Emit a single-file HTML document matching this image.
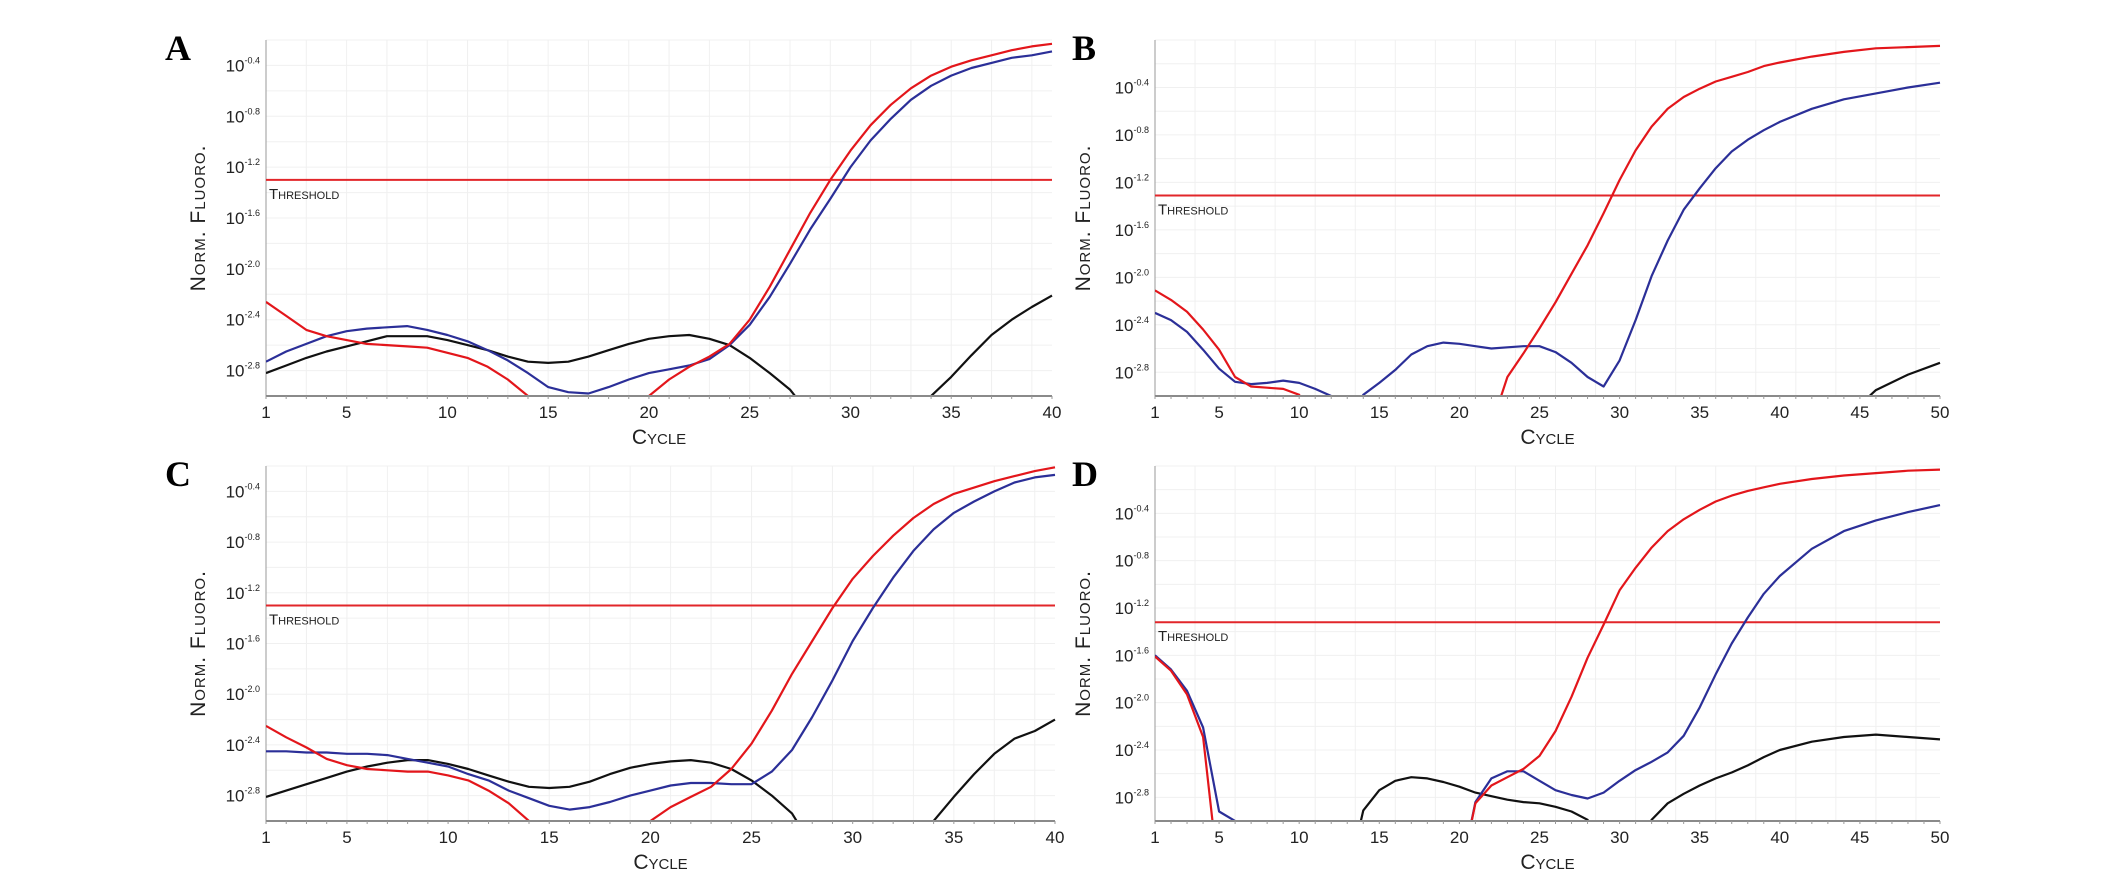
<!DOCTYPE html>
<html><head><meta charset="utf-8">
<style>
html,body{margin:0;padding:0;background:#fff;}
svg{display:block;}
text{font-family:"Liberation Sans",sans-serif;}
text.letter{font-family:"Liberation Serif",serif;}
</style></head>
<body>
<svg id="fig" width="2126" height="888" viewBox="0 0 2126 888" xmlns="http://www.w3.org/2000/svg"></svg>
<script>
// ---- data (log10 normalized fluorescence); values below axis floor are clipped ----
const cyclesA = [1,2,3,4,5,6,7,8,9,10,11,12,13,14,15,16,17,18,19,20,21,22,23,24,25,26,27,28,29,30,31,32,33,34,35,36,37,38,39,40];
const redA = [-2.26,-2.37,-2.48,-2.53,-2.56,-2.59,-2.60,-2.61,-2.62,-2.66,-2.70,-2.77,-2.87,-3.0,-3.5,-3.5,-3.5,-3.5,-3.5,-3.0,-2.87,-2.77,-2.69,-2.59,-2.40,-2.14,-1.85,-1.56,-1.30,-1.07,-0.87,-0.71,-0.58,-0.48,-0.41,-0.36,-0.32,-0.28,-0.25,-0.23];
const blueA = [-2.73,-2.65,-2.59,-2.53,-2.49,-2.47,-2.46,-2.45,-2.48,-2.52,-2.57,-2.64,-2.72,-2.82,-2.93,-2.97,-2.98,-2.93,-2.87,-2.82,-2.79,-2.76,-2.71,-2.60,-2.44,-2.22,-1.96,-1.69,-1.45,-1.20,-0.99,-0.82,-0.67,-0.56,-0.48,-0.42,-0.38,-0.34,-0.32,-0.29];
const blackA = [-2.82,-2.76,-2.70,-2.65,-2.61,-2.57,-2.53,-2.53,-2.53,-2.56,-2.60,-2.64,-2.69,-2.73,-2.74,-2.73,-2.69,-2.64,-2.59,-2.55,-2.53,-2.52,-2.55,-2.60,-2.70,-2.82,-2.95,-3.15,-3.5,-3.5,-3.5,-3.5,-3.15,-3.0,-2.85,-2.68,-2.52,-2.40,-2.30,-2.21];

const cyclesC = cyclesA;
const redC = [-2.25,-2.34,-2.42,-2.51,-2.56,-2.59,-2.60,-2.61,-2.61,-2.64,-2.68,-2.76,-2.86,-3.0,-3.5,-3.5,-3.5,-3.5,-3.5,-3.0,-2.89,-2.81,-2.73,-2.59,-2.39,-2.13,-1.84,-1.58,-1.32,-1.09,-0.91,-0.75,-0.61,-0.50,-0.42,-0.37,-0.32,-0.28,-0.24,-0.21];
const blueC = [-2.45,-2.45,-2.46,-2.46,-2.47,-2.47,-2.48,-2.51,-2.54,-2.57,-2.63,-2.68,-2.76,-2.82,-2.88,-2.91,-2.89,-2.85,-2.80,-2.76,-2.72,-2.70,-2.70,-2.71,-2.71,-2.61,-2.44,-2.18,-1.89,-1.58,-1.32,-1.08,-0.87,-0.70,-0.57,-0.48,-0.40,-0.33,-0.29,-0.27];
const blackC = [-2.81,-2.76,-2.71,-2.66,-2.61,-2.57,-2.54,-2.52,-2.52,-2.55,-2.59,-2.64,-2.69,-2.73,-2.74,-2.73,-2.69,-2.63,-2.58,-2.55,-2.53,-2.52,-2.54,-2.59,-2.68,-2.80,-2.94,-3.2,-3.5,-3.5,-3.5,-3.5,-3.2,-3.0,-2.81,-2.63,-2.47,-2.35,-2.29,-2.20];

const cyclesB = [1,2,3,4,5,6,7,8,9,10,11,12,13,14,15,16,17,18,19,20,21,22,23,24,25,26,27,28,29,30,31,32,33,34,35,36,37,38,39,40,42,44,46,48,50];
const redB = [-2.11,-2.19,-2.29,-2.44,-2.61,-2.84,-2.92,-2.93,-2.94,-2.99,-3.5,-3.5,-3.5,-3.5,-3.5,-3.5,-3.5,-3.5,-3.5,-3.5,-3.5,-3.25,-2.84,-2.64,-2.43,-2.21,-1.97,-1.73,-1.46,-1.18,-0.93,-0.73,-0.58,-0.48,-0.41,-0.35,-0.31,-0.27,-0.22,-0.19,-0.14,-0.10,-0.07,-0.06,-0.05];
const blueB = [-2.30,-2.36,-2.46,-2.61,-2.77,-2.88,-2.90,-2.89,-2.87,-2.89,-2.94,-3.0,-3.2,-2.99,-2.89,-2.78,-2.65,-2.58,-2.55,-2.56,-2.58,-2.60,-2.59,-2.58,-2.58,-2.63,-2.72,-2.84,-2.92,-2.70,-2.36,-1.99,-1.69,-1.43,-1.25,-1.08,-0.94,-0.84,-0.76,-0.69,-0.58,-0.50,-0.45,-0.40,-0.36];
const blackB = [-3.5,-3.5,-3.5,-3.5,-3.5,-3.5,-3.5,-3.5,-3.5,-3.5,-3.5,-3.5,-3.5,-3.5,-3.5,-3.5,-3.5,-3.5,-3.5,-3.5,-3.5,-3.5,-3.5,-3.5,-3.5,-3.5,-3.5,-3.5,-3.5,-3.5,-3.5,-3.5,-3.5,-3.5,-3.5,-3.5,-3.5,-3.5,-3.5,-3.5,-3.5,-3.2,-2.95,-2.82,-2.72];

const cyclesD = cyclesB;
const redD = [-1.61,-1.73,-1.93,-2.29,-3.5,-3.5,-3.5,-3.5,-3.5,-3.5,-3.5,-3.5,-3.5,-3.5,-3.5,-3.5,-3.5,-3.5,-3.5,-3.5,-2.85,-2.70,-2.63,-2.56,-2.45,-2.24,-1.95,-1.62,-1.34,-1.05,-0.86,-0.69,-0.55,-0.45,-0.37,-0.30,-0.25,-0.21,-0.18,-0.15,-0.11,-0.08,-0.06,-0.04,-0.03];
const blueD = [-1.60,-1.72,-1.90,-2.21,-2.92,-3.0,-3.5,-3.5,-3.5,-3.5,-3.5,-3.5,-3.5,-3.5,-3.5,-3.5,-3.5,-3.5,-3.5,-3.5,-2.84,-2.64,-2.58,-2.58,-2.66,-2.74,-2.78,-2.81,-2.76,-2.66,-2.57,-2.50,-2.42,-2.28,-2.04,-1.76,-1.50,-1.28,-1.08,-0.93,-0.70,-0.55,-0.46,-0.39,-0.33];
const blackD = [-3.5,-3.5,-3.5,-3.5,-3.5,-3.5,-3.5,-3.5,-3.5,-3.5,-3.5,-3.5,-3.5,-2.91,-2.74,-2.66,-2.63,-2.64,-2.67,-2.71,-2.76,-2.79,-2.82,-2.84,-2.85,-2.88,-2.92,-2.99,-3.3,-3.3,-3.3,-2.99,-2.85,-2.77,-2.70,-2.64,-2.59,-2.53,-2.46,-2.40,-2.33,-2.29,-2.27,-2.29,-2.31];

const yTicks = [-0.4,-0.8,-1.2,-1.6,-2.0,-2.4,-2.8];
const yTickLabels = ["-0.4","-0.8","-1.2","-1.6","-2.0","-2.4","-2.8"];
const xTicks40 = [1,5,10,15,20,25,30,35,40];
const xTicks50 = [1,5,10,15,20,25,30,35,40,45,50];
const thresholds = {A:-1.30,B:-1.31,C:-1.30,D:-1.32};

const NS = "http://www.w3.org/2000/svg";
const svg = document.getElementById('fig');
function mk(tag, attrs, parent){ const e=document.createElementNS(NS,tag); for(const k in attrs) e.setAttribute(k,attrs[k]); (parent||svg).appendChild(e); return e; }

function panel(id, box, xMax, yTop, cycles, red, blue, black, xTicks, thr, letterX, titleX){
  const g = mk('g',{});
  
  
  const L=box[0], R=box[1], T=box[2], B=box[3];
  const xs = c => L + (c-1)/(xMax-1)*(R-L);
  const ys = v => T + (yTop - v)/(yTop - (-3.0))*(B-T);
  const grid = mk('g',{stroke:'#f0f0f0','stroke-width':1},g);
  
  
  for(let v=-2.8; v<=yTop+0.001; v+=0.2){ const y=ys(v); mk('line',{x1:L,x2:R,y1:y,y2:y},grid); }
  for(let c=1; c<=xMax; c+=(xMax>40?2.5:2)){ const x=xs(c); mk('line',{x1:x,x2:x,y1:T,y2:B},grid); }
  const yAxis = mk('line',{x1:L,x2:L,y1:T,y2:B,stroke:'#9a9a9a','stroke-width':1},g);
  
  
  const xAxis = mk('line',{x1:L,x2:R,y1:B,y2:B,stroke:'#8a8a8a','stroke-width':2},g);
  
  
  for(let c=1;c<=xMax;c++){ const x=xs(c); mk('line',{x1:x,x2:x,y1:B,y2:B+3,stroke:'#999','stroke-width':1},g); }
  yTicks.forEach((v,i)=>{
    const t = mk('text',{x:L-6,y:ys(v)+6,'text-anchor':'end','font-size':17,fill:'#222'},g);
    
    
    t.appendChild(document.createTextNode('10'));
    const s = mk('tspan',{'font-size':9,dy:-8},t); s.textContent=yTickLabels[i];
  });
  xTicks.forEach(c=>{
    const t = mk('text',{x:xs(c),y:B+22,'text-anchor':'middle','font-size':17,fill:'#222'},g);
    
    
    t.textContent = c;
  });
  const cp = mk('clipPath',{id:'clip'+id},g);
  mk('rect',{x:L,y:T-5,width:R-L+2,height:B-T+4},cp);
  const ty = ys(thr);
  const th = mk('line',{x1:L,x2:R,y1:ty,y2:ty,stroke:'#e2262a','stroke-width':2},g);
  
  
  const tl = mk('text',{x:L+3,y:ty+19,'font-size':15,fill:'#222','font-variant':'small-caps'},g);
  
  
  tl.textContent='Threshold';
  const series = [['black',black,'#111111'],['blue',blue,'#2b2f98'],['red',red,'#e3161b']];
  series.forEach(s=>{
    const pts = cycles.map((c,i)=>xs(c).toFixed(1)+','+ys(s[1][i]).toFixed(1)).join(' ');
    const pl = mk('polyline',{points:pts,fill:'none',stroke:s[2],'stroke-width':2.2,'stroke-linejoin':'round','clip-path':'url(#clip'+id+')'},g);
    
    
  });
  const cx = (L+R)/2;
  const xt = mk('text',{x:cx,y:B+48,'text-anchor':'middle','font-size':21,fill:'#222','font-variant':'small-caps'},g);
  
  
  xt.textContent='Cycle';
  const yx = titleX, yy=(T+B)/2;
  const yt = mk('text',{x:yx,y:yy,'text-anchor':'middle','font-size':21,fill:'#222','font-variant':'small-caps','letter-spacing':1,transform:'rotate(-90 '+yx+' '+yy+')'},g);
  
  
  yt.textContent='Norm. Fluoro.';
  const lt = mk('text',{x:letterX,y:T+20,'font-size':36,'font-weight':'bold',fill:'#000','class':'letter'},g);
  
  
  lt.textContent=id;
}
panel('A',[266,1052,40,396],40,-0.2,cyclesA,redA,blueA,blackA,xTicks40,thresholds.A,165,205);
panel('B',[1155,1940,40,396],50,0.0,cyclesB,redB,blueB,blackB,xTicks50,thresholds.B,1072,1090);
panel('C',[266,1055,466,821],40,-0.2,cyclesC,redC,blueC,blackC,xTicks40,thresholds.C,165,205);
panel('D',[1155,1940,466,821],50,0.0,cyclesD,redD,blueD,blackD,xTicks50,thresholds.D,1072,1090);
</script>
</body></html>
